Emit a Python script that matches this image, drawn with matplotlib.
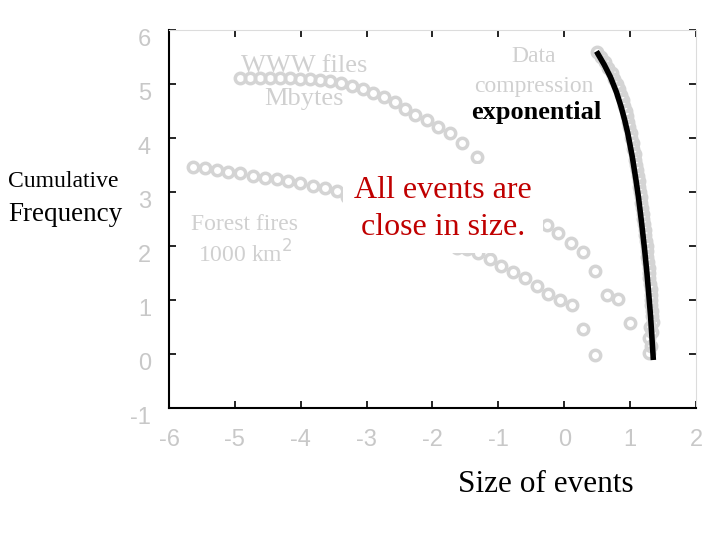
import numpy as np
import matplotlib.pyplot as plt
from matplotlib.transforms import ScaledTranslation

# log10(size) vs log10(cumulative frequency)
www_x = [-4.92, -4.77, -4.62, -4.47, -4.32, -4.16, -4.01, -3.86, -3.71, -3.56, -3.39,
         -3.22, -3.06, -2.90, -2.74, -2.57, -2.42, -2.27, -2.09, -1.92, -1.74, -1.55, -1.33,
         -0.26, -0.10, 0.10, 0.28, 0.46, 0.65, 0.81, 1.00]
www_y = [5.11, 5.11, 5.11, 5.11, 5.11, 5.11, 5.10, 5.09, 5.07, 5.05, 5.02,
         4.96, 4.91, 4.83, 4.76, 4.67, 4.54, 4.43, 4.33, 4.20, 4.09, 3.91, 3.65,
         2.39, 2.24, 2.06, 1.89, 1.54, 1.09, 1.02, 0.57]

fire_x = [-5.64, -5.45, -5.27, -5.10, -4.92, -4.73, -4.54, -4.36, -4.19, -4.01, -3.81,
          -3.63, -3.45, -3.30, -1.63, -1.48, -1.31, -1.13, -0.96, -0.78, -0.60, -0.42,
          -0.25, -0.07, 0.12, 0.28, 0.46]
fire_y = [3.46, 3.44, 3.41, 3.37, 3.35, 3.30, 3.26, 3.24, 3.20, 3.17, 3.11,
          3.07, 3.02, 2.91, 1.97, 1.94, 1.87, 1.76, 1.63, 1.52, 1.41, 1.26,
          1.11, 1.00, 0.91, 0.46, -0.02]

comp_x = [0.50, 0.56, 0.62, 0.67, 0.72, 0.76, 0.80, 0.83, 0.86, 0.89, 0.91, 0.93,
          0.95, 0.97, 0.99, 1.01, 1.02, 1.04, 1.05, 1.07, 1.08, 1.09, 1.11, 1.12,
          1.13, 1.14, 1.15, 1.16, 1.17, 1.18, 1.19, 1.20, 1.21, 1.22, 1.23, 1.24,
          1.25, 1.26, 1.26, 1.27, 1.28, 1.29, 1.29, 1.30, 1.31, 1.31, 1.32, 1.32,
          1.33, 1.33, 1.34, 1.30, 1.33, 1.29, 1.31, 1.28]
comp_y = [5.60, 5.50, 5.40, 5.30, 5.20, 5.10, 5.00, 4.90, 4.80, 4.70, 4.60, 4.50,
          4.40, 4.30, 4.20, 4.10, 4.00, 3.90, 3.80, 3.70, 3.60, 3.50, 3.40, 3.30,
          3.20, 3.10, 3.00, 2.90, 2.80, 2.70, 2.60, 2.50, 2.40, 2.30, 2.20, 2.10,
          2.00, 1.90, 1.80, 1.70, 1.60, 1.50, 1.40, 1.30, 1.20, 1.10, 1.00, 0.90,
          0.80, 0.70, 0.60, 0.50, 0.40, 0.30, 0.15, 0.02]

# exponential fit curve
fit_x = [0.510, 0.610, 0.701, 0.792, 0.865, 0.918, 0.964, 1.033, 1.089, 1.126,
         1.174, 1.220, 1.255, 1.284, 1.311, 1.350]
fit_y = [5.56, 5.35, 5.13, 4.85, 4.57, 4.33, 4.09, 3.65, 3.22, 2.91,
         2.43, 1.93, 1.50, 1.09, 0.69, -0.06]

xticks = [-6, -5, -4, -3, -2, -1, 0, 1, 2]
yticks = [-1, 0, 1, 2, 3, 4, 5, 6]

grey = '#d4d4d4'
txtgrey = '#d0d0d0'

fig = plt.figure(figsize=(7.2, 5.4), dpi=100)
ax = fig.add_axes([169/720, 1-408/540, 527/720, 378/540])

mk = dict(linestyle='none', marker='o', markersize=7.5, markerfacecolor='none',
          markeredgecolor=grey, markeredgewidth=2.5)
ax.plot(www_x, www_y, **mk)
ax.plot(fire_x, fire_y, **mk)
ax.plot(comp_x, comp_y, **mk)
ax.plot(fit_x, fit_y, color='black', lw=4, zorder=4)

ax.set_xlim(-6, 2)
ax.set_ylim(-1, 6)
ax.set_xticks(xticks)
ax.set_yticks(yticks)
ax.set_xticklabels([str(v) for v in xticks])
ax.set_yticklabels([str(v) for v in yticks])

ax.tick_params(direction='in', length=5, width=1.2, top=True, right=True,
               labelcolor='#c8c8c8', labelsize=17)
ax.tick_params(axis='x', pad=15)
ax.tick_params(axis='y', pad=13)
for lab in ax.get_xticklabels() + ax.get_yticklabels():
    lab.set_fontfamily('Liberation Sans')
for lab in ax.get_yticklabels():
    lab.set_transform(lab.get_transform() + ScaledTranslation(0, -7/100, fig.dpi_scale_trans))
for t in ax.xaxis.get_major_ticks() + ax.yaxis.get_major_ticks():
    t.tick2line.set_color('#d9d9d9')

ax.spines['left'].set_linewidth(1.5)
ax.spines['bottom'].set_linewidth(1.5)
ax.spines['top'].set_color('#dcdcdc')
ax.spines['right'].set_color('#dcdcdc')

serif = 'Liberation Serif'
ax.text(-3.95, 5.33, 'WWW files', ha='center', va='center', fontsize=19,
        color=txtgrey, family=serif)
ax.text(-3.95, 4.73, 'Mbytes', ha='center', va='center', fontsize=19,
        color=txtgrey, family=serif)
ax.text(-0.46, 5.50, 'Data', ha='center', va='center', fontsize=17,
        color=txtgrey, family=serif)
ax.text(-0.46, 4.95, 'compression', ha='center', va='center', fontsize=17,
        color=txtgrey, family=serif)
ax.text(-0.42, 4.48, 'exponential', ha='center', va='center', fontsize=19,
        fontweight='bold', color='black', family=serif)
ax.text(-4.85, 2.40, 'Forest fires', ha='center', va='center', fontsize=17,
        color=txtgrey, family=serif)
ax.text(-4.85, 1.85, '1000 km$^2$', ha='center', va='center', fontsize=17,
        color=txtgrey, family=serif)
ax.text(-1.84, 2.69, 'All events are\nclose in size.', ha='center', va='center',
        fontsize=23, color='#c00000', family=serif, linespacing=1.38, zorder=5,
        bbox=dict(facecolor='white', edgecolor='none', pad=8))

fig.text(8/720, 1-181/540, 'Cumulative', ha='left', va='center', fontsize=17,
         family=serif)
fig.text(8/720, 1-214/540, 'Frequency', ha='left', va='center', fontsize=19.5,
         family=serif)
fig.text(546/720, 1-484/540, 'Size of events', ha='center', va='center', fontsize=22.5,
         family=serif)

fig.savefig('out.png', dpi=100)
